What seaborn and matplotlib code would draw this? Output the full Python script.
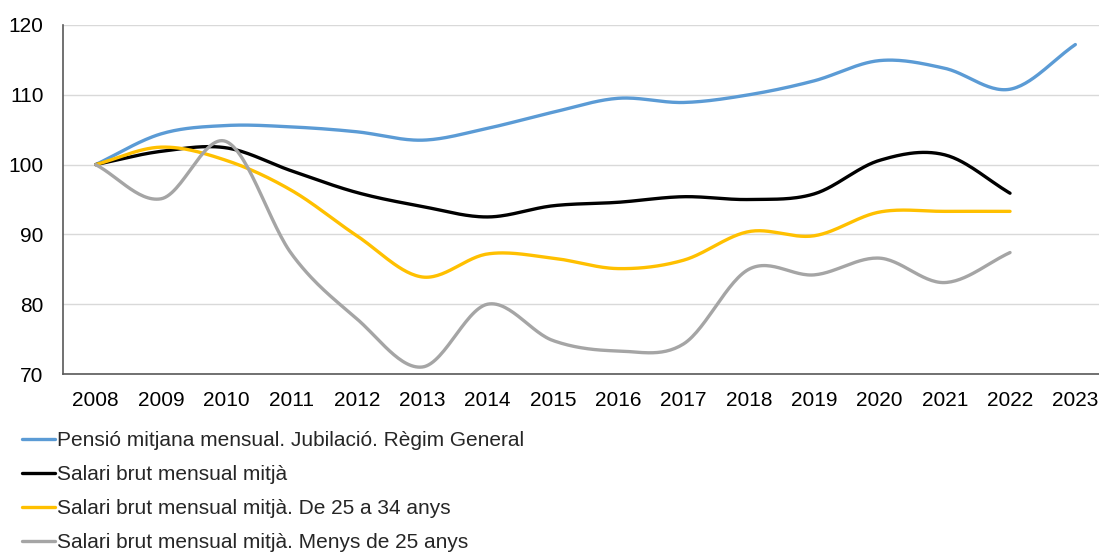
import numpy as np
import pandas as pd
import matplotlib
matplotlib.use("Agg")
import matplotlib.pyplot as plt
import seaborn as sns

years = [str(y) for y in range(2008, 2024)]

pensio = [100, 104.4, 105.6, 105.4, 104.7, 103.5, 105.2, 107.5, 109.5, 108.9,
          110.0, 112.0, 114.9, 113.8, 110.8, 117.2]
salari = [100, 101.9, 102.4, 99.1, 96.0, 94.0, 92.5, 94.1, 94.6, 95.4,
          95.0, 95.8, 100.6, 101.4, 95.9]
salari_25_34 = [100, 102.5, 100.6, 96.3, 89.8, 83.9, 87.2, 86.6, 85.1, 86.3,
                90.4, 89.8, 93.2, 93.3, 93.3]
salari_menys25 = [100, 95.1, 103.3, 87.2, 77.9, 71.0, 80.0, 74.8, 73.3, 74.3,
                  85.0, 84.2, 86.6, 83.1, 87.4]

series_names = [
    "Pensió mitjana mensual. Jubilació. Règim General",
    "Salari brut mensual mitjà",
    "Salari brut mensual mitjà. De 25 a 34 anys",
    "Salari brut mensual mitjà. Menys de 25 anys",
]
colors = ["#5B9BD5", "#000000", "#FFC000", "#A5A5A5"]


def smooth(y, n=30):
    # Catmull-Rom style curve like Excel "smoothed line"
    y = np.asarray(y, dtype=float)
    x = np.arange(len(y), dtype=float)
    xs, ys = [], []
    for i in range(len(y) - 1):
        p0 = y[i - 1] if i > 0 else y[i]
        p1, p2 = y[i], y[i + 1]
        p3 = y[i + 2] if i + 2 < len(y) else y[i + 1]
        t = np.linspace(0, 1, n, endpoint=False)
        m1 = (p2 - p0) / (2 if i > 0 else 1)
        m2 = (p3 - p1) / (2 if i + 2 < len(y) else 1)
        h00 = 2 * t**3 - 3 * t**2 + 1
        h10 = t**3 - 2 * t**2 + t
        h01 = -2 * t**3 + 3 * t**2
        h11 = t**3 - t**2
        xs.append(x[i] + t)
        ys.append(h00 * p1 + h10 * m1 + h01 * p2 + h11 * m2)
    xs.append([x[-1]])
    ys.append([y[-1]])
    return np.concatenate(xs), np.concatenate(ys)


frames = []
for name, vals in zip(series_names, [pensio, salari, salari_25_34, salari_menys25]):
    sx, sy = smooth(vals)
    frames.append(pd.DataFrame({"x": sx, "y": sy, "serie": name}))
df = pd.concat(frames, ignore_index=True)

sns.set_style("white")
plt.rcParams["font.family"] = ["Liberation Sans", "DejaVu Sans"]

fig = plt.figure(figsize=(10.99, 5.54), dpi=100)
ax = fig.add_axes([63 / 1099, 180 / 554, 1045 / 1099, 349 / 554])

sns.lineplot(data=df, x="x", y="y", hue="serie", palette=colors,
             hue_order=series_names, sort=False, linewidth=2.4,
             estimator=None, ax=ax)

ax.set_xlim(-0.5, 15.5)
ax.set_ylim(70, 120)
ax.set_yticks([70, 80, 90, 100, 110, 120])
ax.set_xticks(range(len(years)))
ax.set_xticklabels(years)
ax.set_xticks(np.arange(0.5, 15.5, 1), minor=True)
ax.tick_params(axis="x", which="major", length=0, labelsize=15, pad=12, colors="black")
ax.tick_params(axis="x", which="minor", length=5, direction="in", color="#595959", width=1)
ax.tick_params(axis="y", length=6, direction="in", color="#595959", width=1,
               labelsize=15, pad=14, labelcolor="black")
ax.grid(axis="y", color="#D9D9D9", linewidth=1)
ax.set_axisbelow(True)
for s in ["top", "right"]:
    ax.spines[s].set_visible(False)
for s in ["left", "bottom"]:
    ax.spines[s].set_color("#595959")
    ax.spines[s].set_linewidth(1.2)
ax.set_xlabel("")
ax.set_ylabel("")

handles, labels = ax.get_legend_handles_labels()
ax.legend(handles, labels, loc="upper left", bbox_to_anchor=(22 / 1099, 1 - 431 / 554),
          bbox_transform=fig.transFigure, frameon=False, fontsize=15,
          handlelength=1.6, handletextpad=0.1, labelspacing=0.72,
          borderaxespad=0, borderpad=0)

fig.savefig("out.png", dpi=100)
